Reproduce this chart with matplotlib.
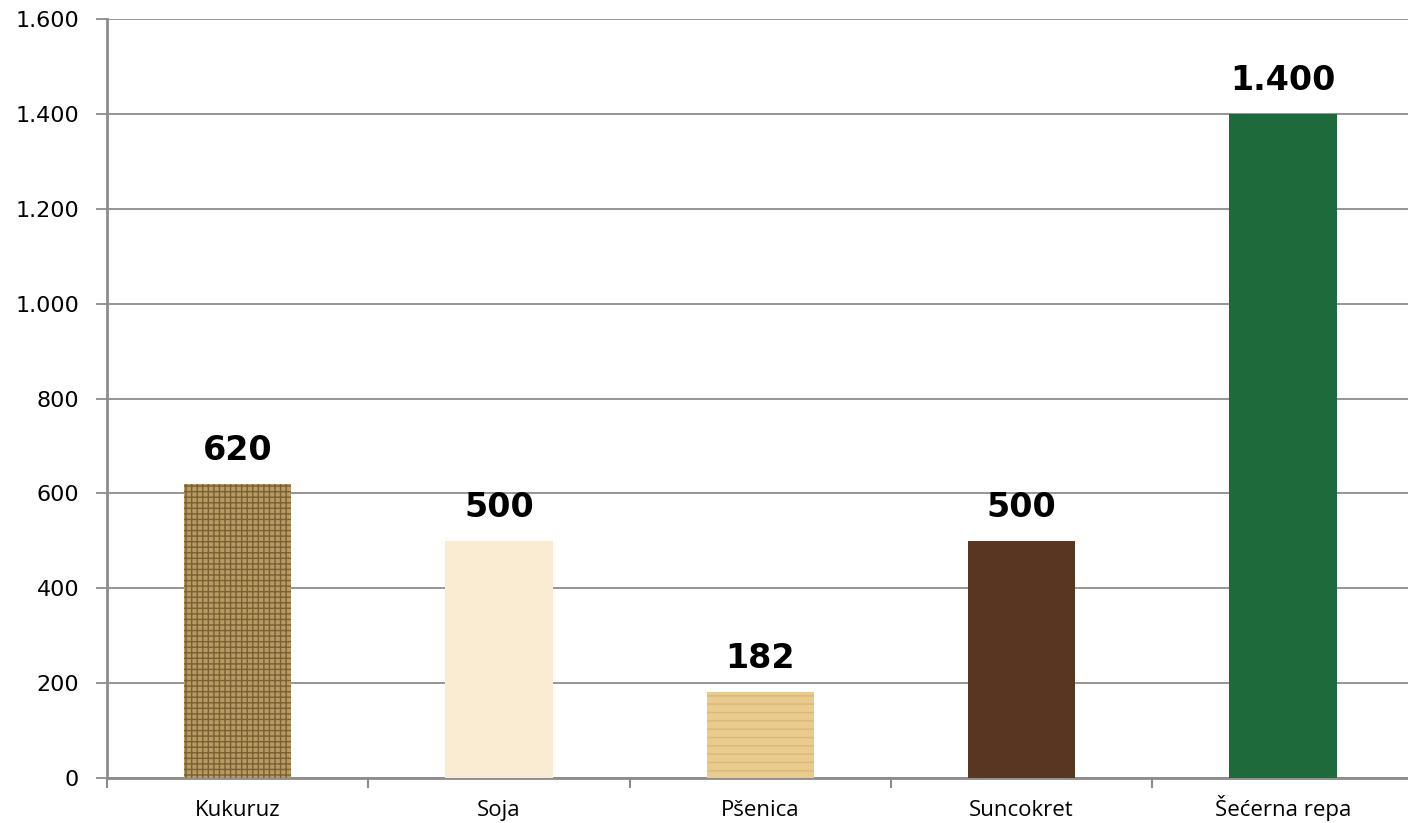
import matplotlib.pyplot as plt
import numpy as np

# data
crops = ['Kukuruz', 'Soja', 'Pšenica', 'Suncokret', 'Šećerna repa']
values = [620, 500, 182, 500, 1400]
labels = ['620', '500', '182', '500', '1.400']
yticks = [0, 200, 400, 600, 800, 1000, 1200, 1400, 1600]
ytick_labels = ['0', '200', '400', '600', '800', '1.000', '1.200', '1.400', '1.600']

# looks of the textured bars (solid fill + hatch as stand-in for the textures)
face = ['#b89b62', '#f9ecd2', '#e9cb8e', '#593622', '#1f6a3b']
hatch_col = ['#7a6033', '#f2e2c0', '#d9b878', '#3f2416', '#2e8a52']
hatches = ['+++', None, '--', None, None]

fig = plt.figure(figsize=(14.08, 8.23), dpi=100)
ax = fig.add_axes([0.076, 0.0547, 0.928, 0.922])

x = np.arange(len(crops))
for i in range(len(crops)):
    plt.rcParams['hatch.color'] = hatch_col[i]
    ax.bar(x[i], values[i], width=0.41, color=face[i], hatch=hatches[i],
           linewidth=0, zorder=3)
    ax.annotate(labels[i], (x[i], values[i]), xytext=(0, 12), textcoords='offset points',
                ha='center', va='bottom', fontsize=24, fontweight='bold',
                family='DejaVu Sans', zorder=4)

ax.set_xlim(-0.5, len(crops) - 0.5)
ax.set_ylim(0, 1600)
ax.set_yticks(yticks)
ax.set_yticklabels(ytick_labels, fontsize=16, family='DejaVu Sans')
ax.yaxis.grid(True, color='#8c8c8c', linewidth=1.3, zorder=0)
ax.set_axisbelow(True)

# category names placed on a fixed baseline below the axis
ax.set_xticks(x)
ax.set_xticklabels([])
ax.tick_params(axis='x', which='major', length=0)
for i in range(len(crops)):
    ax.text(x[i], -0.05, crops[i], transform=ax.get_xaxis_transform(),
            ha='center', va='baseline', fontsize=16, family='Open Sans')
ax.set_xticks(np.arange(-0.5, len(crops) - 0.4, 1.0), minor=True)
ax.tick_params(axis='x', which='minor', length=7, width=1.5, color='#8c8c8c', direction='out')
ax.tick_params(axis='y', length=8, width=1.3, color='#8c8c8c', pad=12)

for side in ['top', 'right']:
    ax.spines[side].set_visible(False)
for side in ['left', 'bottom']:
    ax.spines[side].set_color('#8c8c8c')
    ax.spines[side].set_linewidth(2)

plt.savefig('out.png', dpi=100)
